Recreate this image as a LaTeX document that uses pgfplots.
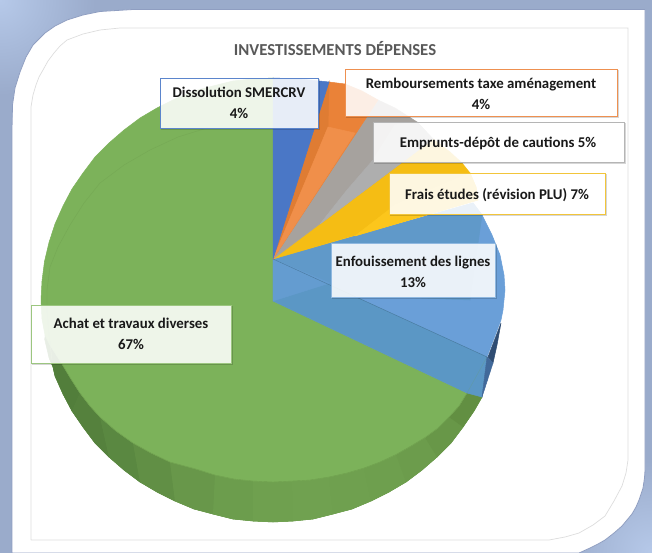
\documentclass[border=0pt]{standalone}
\usepackage{pgfplots}
\pgfplotsset{compat=1.18}
\usepackage{fontspec}
\setmainfont{Carlito}
\definecolor{bgc}{HTML}{9AABCB}
\definecolor{bgl}{HTML}{B6C9E9}
\definecolor{bgd}{HTML}{8F9EC1}
\definecolor{frm}{HTML}{DDDDDD}
\definecolor{gtop}{HTML}{7CB25A}
\definecolor{gline}{HTML}{6F9F4E}
\definecolor{sdark}{HTML}{527E3B}
\definecolor{smid}{HTML}{70A150}
\definecolor{sright}{HTML}{5F8A3F}
\definecolor{b1}{HTML}{4A77C6}
\definecolor{o1}{HTML}{EA8238}
\definecolor{o2}{HTML}{DF7C33}
\definecolor{o3}{HTML}{F08F4A}
\definecolor{g1}{HTML}{A6A29E}
\definecolor{g2}{HTML}{AEAEAE}
\definecolor{y1}{HTML}{F5BD14}
\definecolor{y2}{HTML}{FCC61C}
\definecolor{bl1}{HTML}{6A9FD8}
\definecolor{bl2}{HTML}{6099C9}
\definecolor{bl3}{HTML}{5B97C5}
\definecolor{nv}{HTML}{2F4D73}
\definecolor{nv2}{HTML}{41699A}
\definecolor{lbor}{HTML}{5B85CC}
\definecolor{lor}{HTML}{EE9050}
\definecolor{lgr}{HTML}{B5B5B5}
\definecolor{lye}{HTML}{F2C53A}
\definecolor{lbl}{HTML}{8FB8E0}
\definecolor{lgn}{HTML}{9CC680}
\newcommand\poly[2]{\addplot[draw=#1,fill=#1,line width=0.5pt] coordinates {#2};}
\newcommand\labbox[5]{%
 \addplot[draw=black,opacity=0.16,line width=1.6pt,xshift=1.3pt,yshift=-1.3pt] coordinates {(#2,#3) (#2,#4) (#1,#4)};%
 \addplot[draw=#5,fill=white,fill opacity=0.87,line width=0.7pt] coordinates {(#1,#3) (#2,#3) (#2,#4) (#1,#4) (#1,#3)};%
}
\newcommand\lt[2]{\node[font=\fontsize{14.9}{20.5}\selectfont\bfseries,text=black!90,align=center,anchor=center,inner sep=0pt] at (axis cs:#1) {#2};}
\begin{document}
\begin{tikzpicture}
\path[use as bounding box] (0,0) rectangle (652bp,553bp);
\begin{axis}[at={(0,0)},anchor=south west,scale only axis,width=652bp,height=553bp,
  xmin=0,xmax=652,ymin=0,ymax=553,y dir=reverse,axis lines=none,clip=true]
% background
\fill[bgc] (axis cs:0,0) rectangle (axis cs:652,553);
\shade[inner color=bgl,outer color=bgc] (axis cs:0,0) circle (95bp);
\shade[inner color=bgl,outer color=bgc] (axis cs:652,553) circle (95bp);
% panel
\addplot[draw=bgd,fill=white,line width=0.8pt] coordinates {
 (12,553) (12,130) (12.5,105) (15,88) (20,72) (26,57) (33,45) (45,33) (55,26) (67,20) (83,15) (100,11.5) (133,9.5)
 (645,9.5) (645,470) (644.5,478) (643,488) (639,500) (636,507) (632,514) (627,520) (622,526) (614,533) (605,540) (598,544) (590,548) (579,553) (12,553)};
% inner frame
\addplot[draw=frm,line width=0.7pt] coordinates {
 (31,540) (31,107) (33,95) (36,85) (39,77) (43,70) (48,61) (54,53) (60,46) (67,40) (75,37) (83,34) (100,30) (120,28)
 (628,28) (628,460) (626,473) (622,486) (614,501) (605,516) (593,525) (579,533) (565,537) (549,540) (31,540)};
% title
\node[font=\fontsize{16.8}{18}\selectfont\bfseries,text=black!65,inner sep=0pt] at (axis cs:335,49) {INVESTISSEMENTS DÉPENSES};
% underlay of the side
\poly{smid}{(45,335) (62,364) (100,417) (170,462) (273,470) (364,460) (449,410) (467,393) (482,397) (474,411) (463,427) (451,443) (437,457) (422,470) (406,482) (389,492) (371,501) (352,509) (333,514) (313,519) (293,521) (273,522) (253,521) (233,519) (213,514) (194,509) (175,501) (157,492) (140,482) (124,470) (109,457) (95,443) (83,427) (72,411) (63,394) (55,376) (53,367) (49,357.5)}
% side of the green slice
\poly{sdark}{(45,335) (50,345) (62,364) (53,367) (49,357.5) (44.5,338.5)}
\poly{sdark}{(62,364) (71,379) (80,393) (72,411) (63,394) (55,376) (53,367)}
\poly{sdark!90!smid}{(80,393) (90,406) (100,417) (109,457) (95,443) (83,427) (72,411)}
\poly{sdark!72!smid}{(100,417) (116,431) (133,443) (140,482) (124,470) (109,457)}
\poly{sdark!50!smid}{(133,443) (151,453) (170,462) (175,501) (157,492) (140,482)}
\poly{sdark!28!smid}{(170,462) (196,469) (215,475) (213,514) (194,509) (175,501)}
\poly{sdark!12!smid}{(215,475) (234,479) (253,481) (253,521) (233,519) (213,514)}
\poly{sdark!4!smid}{(253,481) (273,482) (292,481) (293,521) (273,522) (253,521)}
\poly{smid}{(292,481) (310,480) (329,477) (333,514) (313,519) (293,521)}
\poly{smid!97!sright}{(329,477) (347,473) (364,468) (371,501) (352,509) (333,514)}
\poly{smid!90!sright}{(364,468) (380,462) (396,454.5) (406,482) (389,492) (371,501)}
\poly{smid!78!sright}{(396,454.5) (411,446) (425,437.5) (437,457) (422,470) (406,482)}
\poly{smid!55!sright}{(425,437.5) (438,428) (449,417) (463,427) (451,443) (437,457)}
\poly{smid!20!sright}{(449,417) (459,406) (467,393) (482,397) (474,411) (463,427)}
% top of the green slice
\poly{gtop}{(273,301) (273,78) (253,79) (233,81) (213,86) (194,91) (175,99) (157,108) (140,118) (124,130) (109,143) (95,157) (83,173) (72,189) (63,206) (55,224) (49,242.5) (44.5,261.5) (42,281) (41,300) (42,319) (45,335)
 (50,345) (62,364) (71,379) (80,393) (90,406) (100,417) (116,431) (133,443) (151,453) (170,462) (196,469) (215,475) (234,479) (253,481) (273,482) (292,481) (310,480) (329,477) (347,473) (364,468) (380,462) (396,454.5) (411,446) (425,437.5) (438,428) (449,417) (459,406) (467,393) (273,301)}
\addplot[draw=gline,line width=0.4pt] coordinates {(62,364) (71,379) (80,393) (90,406) (100,417) (116,431) (133,443) (151,453) (170,462) (196,469) (215,475) (234,479) (253,481) (273,482) (292,481) (310,480) (329,477) (347,473) (364,468) (380,462) (396,454.5) (411,446) (425,437.5) (438,428) (449,417) (459,406) (467,393)};
\addplot[draw=smid!60!gtop,line width=0.4pt] coordinates {(207,128) (178,137) (150,150) (124,165) (100,183) (84,203) (70,225) (58,247) (50,267) (47,290) (47,310) (49,335) (52,360)};
% blue, large slice
\poly{bl1}{(273,259) (473,203) (482,215) (492,235) (500,255) (504,275) (505,290) (503,310) (501,320) (487,357) (273,259)}
\poly{bl2}{(273,259) (473,203) (482,215) (470,300) (350,295) (273,259)}
\poly{bl3}{(273,259) (273,301) (467,393) (482,397) (487,357) (273,259)}
\poly{bl1!60!bl3}{(273,259) (273,301) (330,283) (273,259)}
\addplot[draw=bl3!80!black,line width=0.4pt] coordinates {(273,259) (487,357)};
\addplot[draw=bl3!75!gline,line width=0.4pt] coordinates {(487,357) (467,393)};
\poly{nv}{(501,323) (497,345) (493,363) (488,357) (501,323)}
\poly{nv2}{(493,363) (482,397) (487,357) (493,363)}
% slices of the upper right
\poly{y1}{(273,259) (433,139) (450,152) (462,163) (470,173) (476,187) (478,200) (273,259)}
\poly{y2}{(355,236) (395,205) (470,173) (476,187) (478,200) (355,236)}
\poly{g1}{(273,259) (378,100) (395,108) (417,122) (433,139) (273,259)}
\poly{g2}{(320,224) (347,190) (373,160) (395,125) (417,122) (433,139) (320,224)}
\poly{o1}{(273,259) (329,82) (345,84) (362,91) (378,100) (273,259)}
\poly{o2}{(273,259) (329,82) (328,127) (273,259)}
\poly{o3}{(273,259) (328,127) (355,133) (273,259)}
\poly{b1}{(273,259) (273,78) (300,79) (329,82) (273,259)}
% labels
\labbox{160}{318}{78}{128}{lbor}
\labbox{345}{617}{69}{116}{lor}
\labbox{373}{624}{122}{162}{lgr}
\labbox{389}{605}{173}{214}{lye}
\labbox{331}{495}{243}{297}{lbl}
\labbox{31}{231}{305}{363}{lgn}
\lt{239,103}{Dissolution SMERCRV\\4\%}
\lt{481,94}{Remboursements taxe aménagement\\4\%}
\lt{498,143}{Emprunts-dépôt de cautions 5\%}
\lt{497,195}{Frais études (révision PLU) 7\%}
\lt{413,272}{Enfouissement des lignes\\13\%}
\lt{131,334}{Achat et travaux diverses\\67\%}
\end{axis}
\end{tikzpicture}
\end{document}
